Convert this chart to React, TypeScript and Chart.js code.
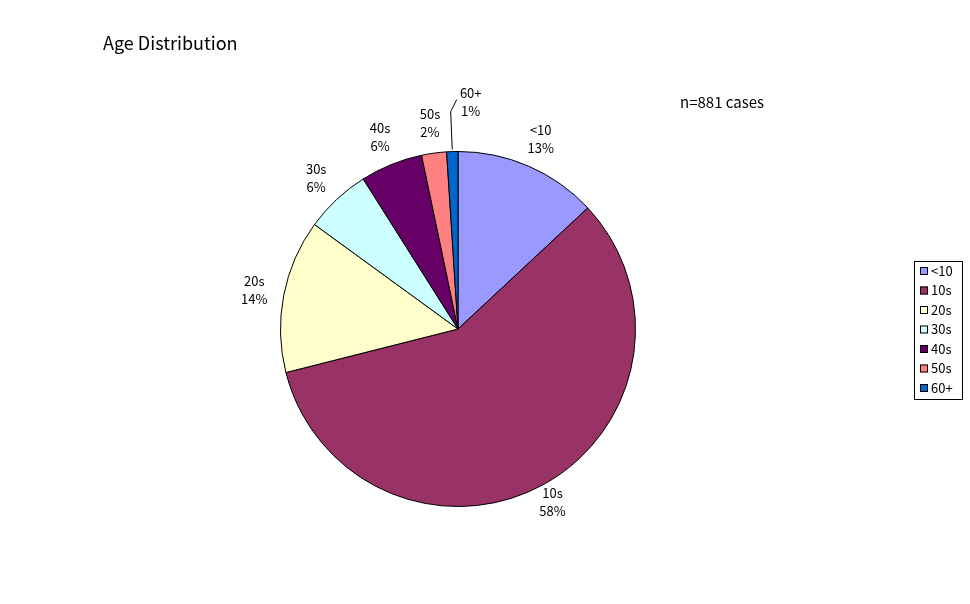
import React, { useEffect, useRef } from "react";
import { Chart, registerables } from "chart.js";
Chart.register(...registerables);

const categories = ["<10", "10s", "20s", "30s", "40s", "50s", "60+"];
const counts = [115, 511, 123, 53, 50, 20, 9];
const percentLabels = ["13%", "58%", "14%", "6%", "6%", "2%", "1%"];
const colors = ["#9999ff", "#993366", "#ffffcc", "#ccffff", "#660066", "#ff8080", "#0066cc"];
const titleText = "Age Distribution";
const noteText = "n=881 cases";
const FONT = '"Noto Sans CJK JP", "DejaVu Sans", sans-serif';

export default function App() {
  const ref = useRef<HTMLCanvasElement>(null);
  useEffect(() => {
    const labelsPlugin = {
      id: "extras",
      afterDraw(chart: any) {
        const ctx = chart.ctx;
        const meta = chart.getDatasetMeta(0);
        ctx.save();
        ctx.fillStyle = "#000";
        ctx.font = `18px ${FONT}`;
        ctx.textBaseline = "alphabetic";
        ctx.fillText(titleText, 103, 50);
        ctx.font = `15px ${FONT}`;
        ctx.fillText(noteText, 680, 108);
        ctx.font = `13px ${FONT}`;
        ctx.textAlign = "center";
        meta.data.forEach((arc: any, i: number) => {
          const mid = (arc.startAngle + arc.endAngle) / 2;
          const extra = i === 6 ? 50 : i === 1 ? 20 : 30;
          let r = arc.outerRadius + extra;
          let x = arc.x + Math.cos(mid) * r;
          let y = arc.y + Math.sin(mid) * r;
          if (i === 6) {
            x += 20;
            ctx.strokeStyle = "#000";
            ctx.lineWidth = 1;
            ctx.beginPath();
            ctx.moveTo(arc.x + Math.cos(mid) * (arc.outerRadius + 2), arc.y + Math.sin(mid) * (arc.outerRadius + 2));
            ctx.lineTo(x - 20, y + 10);
            ctx.lineTo(x - 14, y - 2);
            ctx.stroke();
          }
          ctx.fillText(categories[i], x, y - 4);
          ctx.fillText(percentLabels[i], x, y + 14);
        });
        // legend
        ctx.textAlign = "left";
        ctx.strokeStyle = "#000";
        ctx.lineWidth = 1;
        ctx.strokeRect(914.5, 261.5, 48, 138);
        categories.forEach((c, i) => {
          const y = 271 + i * 19.5;
          ctx.fillStyle = colors[i];
          ctx.fillRect(920, y - 4, 8, 8);
          ctx.strokeRect(920.5, y - 3.5, 7, 7);
          ctx.fillStyle = "#000";
          ctx.textBaseline = "middle";
          ctx.fillText(c, 931, y);
        });
        ctx.restore();
      },
    };
    const chart = new Chart(ref.current!, {
      type: "pie",
      data: {
        labels: categories,
        datasets: [{ data: counts, backgroundColor: colors, borderColor: "#000", borderWidth: 1 }],
      },
      options: {
        responsive: false,
        animation: false,
        layout: { padding: { top: 151, bottom: 97, left: 280, right: 334 } },
        plugins: { legend: { display: false }, tooltip: { enabled: false } },
      },
      plugins: [labelsPlugin],
    });
    return () => chart.destroy();
  }, []);
  return (
    <div style={{ position: "absolute", left: 0, top: 0, background: "#fff" }}>
      <canvas ref={ref} width={970} height={604} />
    </div>
  );
}
